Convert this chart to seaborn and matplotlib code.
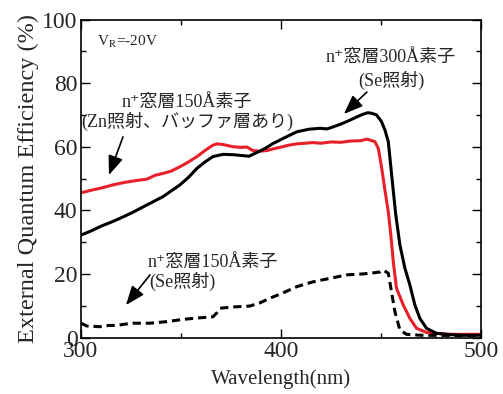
import matplotlib
matplotlib.use('Agg')
import matplotlib.pyplot as plt
import seaborn as sns

# n+ window 300A, Se irradiated (solid black)
wl_se300 = [300, 305, 310, 316, 322, 326, 333, 341, 349.5, 354, 358, 362, 366, 371, 376,
            381, 384, 386, 390, 393, 396, 399.5, 404, 408, 414, 419.5, 423, 425, 429.5, 434,
            438, 441, 443.5, 445.5, 447.8, 450.3, 452, 453.7, 455.3, 457.4, 459.5, 462, 464.5,
            467, 469.5, 472.8, 477.8, 484.5, 490, 500]
eqe_se300 = [32.2, 33.5, 35.0, 36.5, 38.2, 39.4, 41.7, 44.3, 48.0, 50.5, 53.2, 55.2, 56.9, 57.6, 57.5,
             57.2, 57.0, 57.6, 58.8, 59.8, 61.0, 62.1, 63.5, 64.7, 65.5, 65.8, 65.6, 66.0, 67.0, 68.2,
             69.4, 70.2, 70.7, 70.5, 70.0, 67.9, 65.3, 61.6, 51.6, 38.8, 29.1, 21.8, 16.5,
             10.2, 6.0, 2.9, 1.3, 0.9, 0.7, 0.7]

# n+ window 150A, Zn irradiated, with buffer layer (red)
wl_zn150 = [300, 305, 310, 316, 322, 328, 333, 337, 341, 345, 349.5, 354, 358, 362, 366, 368,
            371, 376, 380, 383, 386, 389.5, 393, 396, 399.5, 404, 408, 416, 420, 425, 430, 435,
            440, 443, 444.5, 447, 448.7, 450.3, 452, 453.7, 455, 456.2, 457.8, 461.2, 464.5,
            467.8, 472.8, 477.8, 485, 500]
eqe_zn150 = [45.5, 46.3, 47.0, 48.0, 48.8, 49.4, 49.8, 51.0, 51.6, 52.3, 53.7, 55.3, 56.9, 58.8, 60.5, 60.9,
             60.7, 60.0, 59.8, 59.9, 58.8, 58.6, 58.8, 59.3, 59.8, 60.5, 60.9, 61.3, 61.1, 61.5, 61.4, 61.8,
             61.9, 62.4, 62.1, 61.6, 59.5, 53.7, 46.4, 39.5, 32.0, 23.8, 15.5, 10.2, 6.0,
             2.9, 1.6, 1.3, 1.0, 1.0]

# n+ window 150A, Se irradiated (dashed black)
wl_se150 = [300, 303, 309.5, 314, 318, 322, 326, 334.5, 343, 351, 359.5, 366, 368, 369.5, 376,
            384.5, 389.5, 395, 399.5, 408, 416, 424.5, 433, 441, 444.5, 449.5, 451.2, 453.7,
            455.3, 457, 459.5, 462.8, 470, 500]
eqe_se150 = [4.5, 3.6, 3.4, 3.8, 3.8, 4.2, 4.5, 4.5, 5.0, 5.7, 6.2, 6.5, 7.8, 9.2, 9.6,
             9.9, 10.9, 12.5, 13.6, 16.0, 17.5, 18.6, 19.7, 20.0, 20.2, 20.6, 21.2, 20.2,
             14.4, 8.1, 2.4, 1.0, 0.7, 0.6]

x_ticks = [300, 400, 500]
y_ticks = [0, 20, 40, 60, 80, 100]

sns.set_theme(style='ticks')
plt.rcParams['font.family'] = ['Liberation Serif', 'DejaVu Serif', 'Noto Sans CJK JP']
plt.rcParams['mathtext.fontset'] = 'stix'

fig = plt.figure(figsize=(5.03, 3.94), dpi=100)
ax = fig.add_axes([0.161, 0.1434, 0.795, 0.807])

sns.lineplot(x=wl_zn150, y=eqe_zn150, ax=ax, color='#e8202a', lw=2.2, sort=False, estimator=None)
sns.lineplot(x=wl_se300, y=eqe_se300, ax=ax, color='black', lw=2.2, sort=False, estimator=None)
sns.lineplot(x=wl_se150, y=eqe_se150, ax=ax, color='black', lw=2.2, sort=False, estimator=None,
             linestyle=(0, (2.7, 1.6)))

ax.set_xlim(300, 500)
ax.set_ylim(0, 100)
ax.set_xticks(x_ticks)
ax.set_yticks(y_ticks)
ax.set_xticks([350, 450], minor=True)
ax.set_yticks([10, 30, 50, 70, 90], minor=True)
ax.tick_params(which='both', direction='in', top=True, right=True, width=1, color='black')
ax.tick_params(which='major', length=6.5, labelsize=17)
ax.tick_params(which='minor', length=3.6)
ax.tick_params(axis='x', pad=2.5)
ax.tick_params(axis='y', pad=2.5)
for s in ax.spines.values():
    s.set_linewidth(1.2)
    s.set_color('black')

ax.set_xlabel('Wavelength(nm)', fontsize=15, labelpad=5)
ax.set_ylabel('External Quantum Efficiency (%)', fontsize=17.5, labelpad=2)

ax.text(308, 92.9, r'V$_{\rm R}$=-20V', fontsize=11, ha='left', va='center')

ax.text(353, 74, 'n⁺窓層150Å素子', fontsize=13, ha='center', va='center')
ax.text(353, 68, '(Zn照射、バッファ層あり)', fontsize=13, ha='center', va='center')
ax.text(455, 88.2, 'n⁺窓層300Å素子', fontsize=13, ha='center', va='center')
ax.text(455, 81, '(Se照射)', fontsize=13, ha='center', va='center')
ax.text(333.5, 23.7, 'n⁺窓層150Å素子', fontsize=13, ha='left', va='center')
ax.text(334, 17.5, '(Se照射)', fontsize=13, ha='left', va='center')

arrow = dict(arrowstyle='-|>,head_length=0.9,head_width=0.35', color='black', lw=1.2,
             mutation_scale=13, shrinkA=0, shrinkB=0)
ax.annotate('', xy=(314, 51.1), xytext=(321, 63.1), arrowprops=arrow)
ax.annotate('', xy=(431.5, 70.3), xytext=(443, 77.2), arrowprops=arrow)
ax.annotate('', xy=(322.5, 10.2), xytext=(334.5, 19.7), arrowprops=arrow)

fig.savefig('out.png', dpi=100)
